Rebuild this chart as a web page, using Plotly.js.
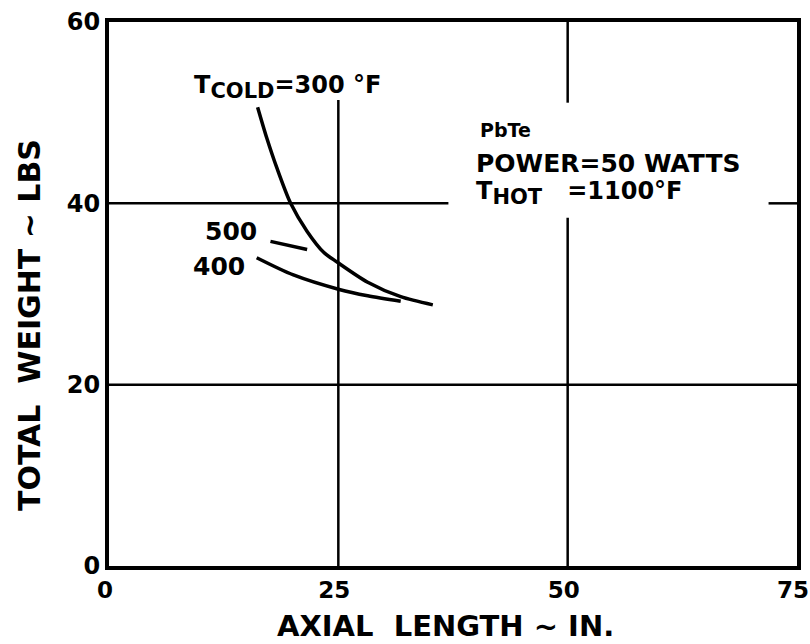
<!DOCTYPE html>
<html><head><meta charset="utf-8">
<script src="https://cdn.plot.ly/plotly-3.0.1.min.js"></script>
<style>html,body{margin:0;padding:0;background:#fff}#c{width:810px;height:644px}</style>
</head><body><div id="c"></div>
<script>
const xTicks = [0, 25, 50, 75];
const yTicks = [0, 20, 40, 60];
const x300 = [16.2, 17.2, 18.3, 19.8, 21.6, 23.4, 24.9, 28.2, 31.8, 35.3];
const y300 = [50.6, 47.2, 43.9, 40.0, 36.9, 34.6, 33.5, 31.3, 29.7, 28.8];
const x400 = [16.1, 20.1, 25.1, 28.2, 31.8];
const y400 = [34.0, 32.1, 30.5, 29.8, 29.2];
const x500 = [17.6, 21.6];
const y500 = [35.8, 34.9];

const F = "DejaVu Sans, Liberation Sans, sans-serif";
const lineStyle = {color: '#000', width: 3.5, shape: 'spline', smoothing: 0.8};
const traces = [
  {x: x300, y: y300, mode: 'lines', line: lineStyle, hoverinfo: 'skip'},
  {x: x400, y: y400, mode: 'lines', line: lineStyle, hoverinfo: 'skip'},
  {x: x500, y: y500, mode: 'lines', line: {color: '#000', width: 3.5}, hoverinfo: 'skip'}
];
const gl = {color: '#000', width: 2.5};
const shapes = [
  {type: 'line', xref: 'x', yref: 'y', x0: 25, x1: 25, y0: 0, y1: 51.4, line: gl},
  {type: 'line', xref: 'x', yref: 'y', x0: 50, x1: 50, y0: 0, y1: 38.4, line: gl},
  {type: 'line', xref: 'x', yref: 'y', x0: 50, x1: 50, y0: 51.1, y1: 60, line: gl},
  {type: 'line', xref: 'x', yref: 'y', x0: 0, x1: 37.0, y0: 40, y1: 40, line: gl},
  {type: 'line', xref: 'x', yref: 'y', x0: 71.9, x1: 75, y0: 40, y1: 40, line: gl},
  {type: 'line', xref: 'x', yref: 'y', x0: 0, x1: 75, y0: 20, y1: 20, line: gl}
];
const ann = (x, y, text, size, yanchor) => ({x, y, xref: 'x', yref: 'y', text, showarrow: false,
  xanchor: 'left', yanchor: yanchor || 'middle', font: {family: F, size, color: '#000', weight: 'bold'}});
const annotations = [
  ann(9.0, 52.8, 'T<sub><span style="font-size:21px">COLD</span></sub>=300 °F', 24),
  ann(40.2, 48.1, 'PbTe', 19),
  ann(39.8, 44.4, 'POWER=50 WATTS', 25),
  ann(39.8, 41.1, 'T<sub><span style="font-size:21px">HOT</span></sub>&nbsp;&nbsp;&nbsp;=1100°F', 24),
  ann(10.3, 35.1, '500', 25, 'bottom'),
  ann(8.9, 34.9, '400', 25, 'top'),
  {xref: 'paper', yref: 'paper', x: (445 - 109) / 688, y: -(626 - 566) / 544, text: 'AXIAL  LENGTH ~ IN.',
   showarrow: false, xanchor: 'center', yanchor: 'middle', font: {family: F, size: 29, color: '#000', weight: 'bold'}},
  {xref: 'paper', yref: 'paper', x: -(109 - 29) / 688, y: (566 - 325) / 544, text: 'TOTAL  WEIGHT ~ LBS',
   textangle: -90, showarrow: false, xanchor: 'center', yanchor: 'middle', font: {family: F, size: 30, color: '#000', weight: 'bold'}}
];
const layout = {
  width: 810, height: 644,
  margin: {l: 109, r: 13, t: 22, b: 78},
  paper_bgcolor: '#fff', plot_bgcolor: '#fff',
  showlegend: false,
  font: {family: F, color: '#000'},
  xaxis: {range: [0, 75], tickvals: xTicks, ticktext: xTicks.map(String), showgrid: false, zeroline: false,
    showline: true, mirror: true, linecolor: '#000', linewidth: 4, ticks: '', ticklen: 0,
    ticklabeloverflow: 'allow', ticklabelshift: -4, automargin: false,
    tickfont: {family: F, size: 23, weight: 'bold'}},
  yaxis: {range: [0, 60], tickvals: yTicks, ticktext: yTicks.map(String), showgrid: false, zeroline: false,
    showline: true, mirror: true, linecolor: '#000', linewidth: 4, ticks: '', ticklen: 0,
    ticklabeloverflow: 'allow', automargin: false,
    tickfont: {family: F, size: 24, weight: 'bold'}},
  shapes, annotations
};
Plotly.newPlot('c', traces, layout, {displayModeBar: false, staticPlot: true});
</script></body></html>
